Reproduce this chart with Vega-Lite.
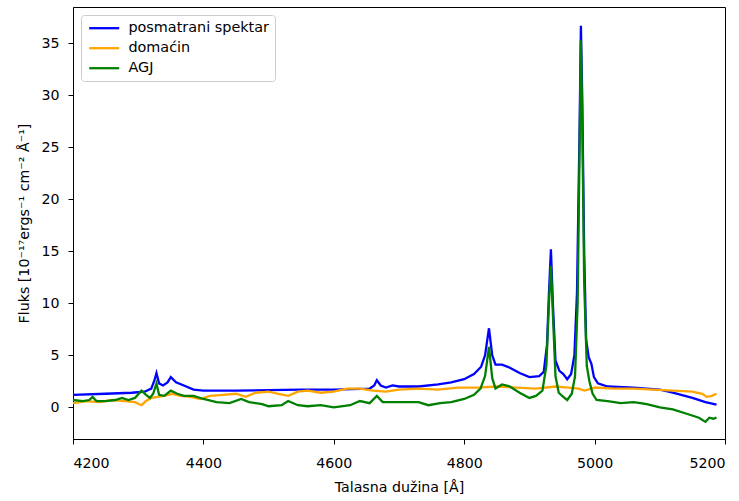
{
  "$schema": "https://vega.github.io/schema/vega-lite/v6.json",
  "width": 652,
  "height": 432,
  "autosize": {"type": "none"},
  "padding": {"left": 73, "top": 7, "right": 14, "bottom": 62},
  "config": {
    "font": "DejaVu Sans",
    "view": {"stroke": "black", "strokeWidth": 1},
    "axis": {
      "grid": false, "domainColor": "black", "tickColor": "black", "tickSize": 5,
      "labelFontSize": 14.2, "labelColor": "black", "titleFontSize": 14.2,
      "titleFontWeight": "normal", "titleColor": "black", "labelFont": "DejaVu Sans", "titleFont": "DejaVu Sans"
    },
    "legend": {
      "labelFont": "DejaVu Sans", "labelFontSize": 14.4, "labelColor": "black"
    }
  },
  "data": {"values": [
    {"s":"posmatrani spektar","x":4200,"y":1.2},
    {"s":"posmatrani spektar","x":4250,"y":1.3},
    {"s":"posmatrani spektar","x":4290,"y":1.4},
    {"s":"posmatrani spektar","x":4310,"y":1.5},
    {"s":"posmatrani spektar","x":4320,"y":1.8},
    {"s":"posmatrani spektar","x":4325,"y":2.6},
    {"s":"posmatrani spektar","x":4328,"y":3.3},
    {"s":"posmatrani spektar","x":4332,"y":2.3},
    {"s":"posmatrani spektar","x":4338,"y":2.1},
    {"s":"posmatrani spektar","x":4345,"y":2.4},
    {"s":"posmatrani spektar","x":4350,"y":2.9},
    {"s":"posmatrani spektar","x":4358,"y":2.4},
    {"s":"posmatrani spektar","x":4370,"y":2.1},
    {"s":"posmatrani spektar","x":4385,"y":1.7},
    {"s":"posmatrani spektar","x":4400,"y":1.6},
    {"s":"posmatrani spektar","x":4450,"y":1.6},
    {"s":"posmatrani spektar","x":4500,"y":1.65},
    {"s":"posmatrani spektar","x":4550,"y":1.7},
    {"s":"posmatrani spektar","x":4600,"y":1.7},
    {"s":"posmatrani spektar","x":4655,"y":1.8},
    {"s":"posmatrani spektar","x":4662,"y":2.1},
    {"s":"posmatrani spektar","x":4666,"y":2.6},
    {"s":"posmatrani spektar","x":4672,"y":2.1},
    {"s":"posmatrani spektar","x":4680,"y":1.9},
    {"s":"posmatrani spektar","x":4690,"y":2.1},
    {"s":"posmatrani spektar","x":4700,"y":2.0},
    {"s":"posmatrani spektar","x":4730,"y":2.0},
    {"s":"posmatrani spektar","x":4760,"y":2.2},
    {"s":"posmatrani spektar","x":4780,"y":2.4},
    {"s":"posmatrani spektar","x":4800,"y":2.7},
    {"s":"posmatrani spektar","x":4815,"y":3.2},
    {"s":"posmatrani spektar","x":4826,"y":3.9},
    {"s":"posmatrani spektar","x":4832,"y":5.0},
    {"s":"posmatrani spektar","x":4838,"y":7.6},
    {"s":"posmatrani spektar","x":4843,"y":5.0},
    {"s":"posmatrani spektar","x":4848,"y":4.1},
    {"s":"posmatrani spektar","x":4858,"y":4.1},
    {"s":"posmatrani spektar","x":4870,"y":3.8},
    {"s":"posmatrani spektar","x":4885,"y":3.3},
    {"s":"posmatrani spektar","x":4900,"y":2.9},
    {"s":"posmatrani spektar","x":4915,"y":3.0},
    {"s":"posmatrani spektar","x":4922,"y":3.4},
    {"s":"posmatrani spektar","x":4927,"y":6.0},
    {"s":"posmatrani spektar","x":4930,"y":11.0},
    {"s":"posmatrani spektar","x":4933,"y":15.2},
    {"s":"posmatrani spektar","x":4936,"y":10.0},
    {"s":"posmatrani spektar","x":4940,"y":4.5},
    {"s":"posmatrani spektar","x":4946,"y":3.5},
    {"s":"posmatrani spektar","x":4952,"y":3.2},
    {"s":"posmatrani spektar","x":4958,"y":2.7},
    {"s":"posmatrani spektar","x":4964,"y":3.2},
    {"s":"posmatrani spektar","x":4969,"y":5.0},
    {"s":"posmatrani spektar","x":4973,"y":11.0},
    {"s":"posmatrani spektar","x":4977,"y":27.0},
    {"s":"posmatrani spektar","x":4979,"y":36.7},
    {"s":"posmatrani spektar","x":4981,"y":30.0},
    {"s":"posmatrani spektar","x":4984,"y":15.0},
    {"s":"posmatrani spektar","x":4987,"y":6.5},
    {"s":"posmatrani spektar","x":4991,"y":4.8},
    {"s":"posmatrani spektar","x":4995,"y":4.2},
    {"s":"posmatrani spektar","x":4999,"y":2.9},
    {"s":"posmatrani spektar","x":5005,"y":2.3},
    {"s":"posmatrani spektar","x":5020,"y":2.0},
    {"s":"posmatrani spektar","x":5060,"y":1.9},
    {"s":"posmatrani spektar","x":5100,"y":1.7},
    {"s":"posmatrani spektar","x":5120,"y":1.4},
    {"s":"posmatrani spektar","x":5150,"y":0.9},
    {"s":"posmatrani spektar","x":5170,"y":0.5},
    {"s":"posmatrani spektar","x":5187,"y":0.25},
    {"s":"domaćin","x":4200,"y":0.4},
    {"s":"domaćin","x":4220,"y":0.6},
    {"s":"domaćin","x":4240,"y":0.5},
    {"s":"domaćin","x":4260,"y":0.7},
    {"s":"domaćin","x":4280,"y":0.6},
    {"s":"domaćin","x":4295,"y":0.5},
    {"s":"domaćin","x":4305,"y":0.2},
    {"s":"domaćin","x":4312,"y":0.6},
    {"s":"domaćin","x":4320,"y":0.9},
    {"s":"domaćin","x":4340,"y":1.1},
    {"s":"domaćin","x":4352,"y":1.3},
    {"s":"domaćin","x":4365,"y":1.1},
    {"s":"domaćin","x":4380,"y":1.0},
    {"s":"domaćin","x":4395,"y":0.8},
    {"s":"domaćin","x":4410,"y":1.1},
    {"s":"domaćin","x":4430,"y":1.2},
    {"s":"domaćin","x":4450,"y":1.3},
    {"s":"domaćin","x":4465,"y":1.0},
    {"s":"domaćin","x":4480,"y":1.4},
    {"s":"domaćin","x":4500,"y":1.5},
    {"s":"domaćin","x":4515,"y":1.3},
    {"s":"domaćin","x":4530,"y":1.1},
    {"s":"domaćin","x":4545,"y":1.5},
    {"s":"domaćin","x":4560,"y":1.6},
    {"s":"domaćin","x":4580,"y":1.4},
    {"s":"domaćin","x":4600,"y":1.5},
    {"s":"domaćin","x":4620,"y":1.8},
    {"s":"domaćin","x":4640,"y":1.8},
    {"s":"domaćin","x":4660,"y":1.6},
    {"s":"domaćin","x":4680,"y":1.5},
    {"s":"domaćin","x":4700,"y":1.7},
    {"s":"domaćin","x":4730,"y":1.8},
    {"s":"domaćin","x":4760,"y":1.7},
    {"s":"domaćin","x":4790,"y":1.9},
    {"s":"domaćin","x":4820,"y":1.9},
    {"s":"domaćin","x":4850,"y":2.0},
    {"s":"domaćin","x":4880,"y":1.9},
    {"s":"domaćin","x":4910,"y":1.8},
    {"s":"domaćin","x":4940,"y":2.0},
    {"s":"domaćin","x":4960,"y":1.9},
    {"s":"domaćin","x":4975,"y":1.8},
    {"s":"domaćin","x":4985,"y":1.6},
    {"s":"domaćin","x":5000,"y":1.9},
    {"s":"domaćin","x":5030,"y":1.8},
    {"s":"domaćin","x":5060,"y":1.8},
    {"s":"domaćin","x":5090,"y":1.7},
    {"s":"domaćin","x":5120,"y":1.6},
    {"s":"domaćin","x":5150,"y":1.5},
    {"s":"domaćin","x":5165,"y":1.3},
    {"s":"domaćin","x":5172,"y":1.0},
    {"s":"domaćin","x":5180,"y":1.1},
    {"s":"domaćin","x":5187,"y":1.3},
    {"s":"AGJ","x":4200,"y":0.7},
    {"s":"AGJ","x":4215,"y":0.6},
    {"s":"AGJ","x":4225,"y":0.7},
    {"s":"AGJ","x":4230,"y":1.0},
    {"s":"AGJ","x":4236,"y":0.6},
    {"s":"AGJ","x":4250,"y":0.6},
    {"s":"AGJ","x":4265,"y":0.7},
    {"s":"AGJ","x":4275,"y":0.9},
    {"s":"AGJ","x":4285,"y":0.7},
    {"s":"AGJ","x":4295,"y":0.9},
    {"s":"AGJ","x":4305,"y":1.6},
    {"s":"AGJ","x":4312,"y":1.2},
    {"s":"AGJ","x":4318,"y":0.9},
    {"s":"AGJ","x":4323,"y":1.3},
    {"s":"AGJ","x":4328,"y":2.3},
    {"s":"AGJ","x":4332,"y":1.2},
    {"s":"AGJ","x":4340,"y":1.1},
    {"s":"AGJ","x":4350,"y":1.6},
    {"s":"AGJ","x":4360,"y":1.3},
    {"s":"AGJ","x":4370,"y":1.1},
    {"s":"AGJ","x":4385,"y":1.1},
    {"s":"AGJ","x":4400,"y":0.8},
    {"s":"AGJ","x":4420,"y":0.5},
    {"s":"AGJ","x":4440,"y":0.4},
    {"s":"AGJ","x":4458,"y":0.8},
    {"s":"AGJ","x":4470,"y":0.5},
    {"s":"AGJ","x":4490,"y":0.3},
    {"s":"AGJ","x":4500,"y":0.1},
    {"s":"AGJ","x":4520,"y":0.2},
    {"s":"AGJ","x":4530,"y":0.6},
    {"s":"AGJ","x":4545,"y":0.2},
    {"s":"AGJ","x":4560,"y":0.1},
    {"s":"AGJ","x":4580,"y":0.2},
    {"s":"AGJ","x":4600,"y":0.0},
    {"s":"AGJ","x":4625,"y":0.2},
    {"s":"AGJ","x":4640,"y":0.6},
    {"s":"AGJ","x":4655,"y":0.4},
    {"s":"AGJ","x":4666,"y":1.1},
    {"s":"AGJ","x":4675,"y":0.5},
    {"s":"AGJ","x":4700,"y":0.5},
    {"s":"AGJ","x":4730,"y":0.5},
    {"s":"AGJ","x":4745,"y":0.2},
    {"s":"AGJ","x":4763,"y":0.4},
    {"s":"AGJ","x":4780,"y":0.5},
    {"s":"AGJ","x":4800,"y":0.8},
    {"s":"AGJ","x":4815,"y":1.2},
    {"s":"AGJ","x":4825,"y":1.8},
    {"s":"AGJ","x":4832,"y":3.0},
    {"s":"AGJ","x":4838,"y":5.8},
    {"s":"AGJ","x":4843,"y":2.8},
    {"s":"AGJ","x":4848,"y":1.8},
    {"s":"AGJ","x":4858,"y":2.2},
    {"s":"AGJ","x":4870,"y":2.0},
    {"s":"AGJ","x":4885,"y":1.4},
    {"s":"AGJ","x":4900,"y":0.9},
    {"s":"AGJ","x":4910,"y":1.1},
    {"s":"AGJ","x":4920,"y":1.6},
    {"s":"AGJ","x":4926,"y":4.0},
    {"s":"AGJ","x":4930,"y":10.0},
    {"s":"AGJ","x":4933,"y":13.6},
    {"s":"AGJ","x":4936,"y":9.0},
    {"s":"AGJ","x":4940,"y":3.0},
    {"s":"AGJ","x":4945,"y":1.4},
    {"s":"AGJ","x":4952,"y":1.0},
    {"s":"AGJ","x":4958,"y":0.7},
    {"s":"AGJ","x":4965,"y":1.3},
    {"s":"AGJ","x":4970,"y":3.0},
    {"s":"AGJ","x":4974,"y":10.0},
    {"s":"AGJ","x":4977,"y":25.0},
    {"s":"AGJ","x":4979,"y":35.3},
    {"s":"AGJ","x":4981,"y":28.0},
    {"s":"AGJ","x":4984,"y":12.0},
    {"s":"AGJ","x":4988,"y":4.0},
    {"s":"AGJ","x":4992,"y":2.5},
    {"s":"AGJ","x":4997,"y":1.3},
    {"s":"AGJ","x":5003,"y":0.7},
    {"s":"AGJ","x":5020,"y":0.6},
    {"s":"AGJ","x":5040,"y":0.4},
    {"s":"AGJ","x":5060,"y":0.5},
    {"s":"AGJ","x":5080,"y":0.3},
    {"s":"AGJ","x":5100,"y":0.0},
    {"s":"AGJ","x":5120,"y":-0.2},
    {"s":"AGJ","x":5140,"y":-0.6},
    {"s":"AGJ","x":5160,"y":-1.0},
    {"s":"AGJ","x":5170,"y":-1.4},
    {"s":"AGJ","x":5176,"y":-1.0},
    {"s":"AGJ","x":5182,"y":-1.1},
    {"s":"AGJ","x":5187,"y":-1.0}
  ]},
  "mark": {"type": "line", "strokeWidth": 2.3, "clip": true},
  "encoding": {
    "x": {
      "field": "x", "type": "quantitative",
      "scale": {"domain": [4200, 5200], "nice": false, "zero": false},
      "axis": {"values": [4200, 4400, 4600, 4800, 5000, 5200], "format": "d", "title": "Talasna dužina [Å]", "labelPadding": 12, "titlePadding": 10}
    },
    "y": {
      "field": "y", "type": "quantitative",
      "scale": {"domain": [-3.05, 38.5], "nice": false, "zero": false},
      "axis": {"values": [0, 5, 10, 15, 20, 25, 30, 35], "title": "Fluks [10⁻¹⁷ergs⁻¹ cm⁻² Å⁻¹]", "labelPadding": 9, "titlePadding": 9}
    },
    "color": {
      "field": "s", "type": "nominal",
      "scale": {"domain": ["posmatrani spektar", "domaćin", "AGJ"], "range": ["#0000ff", "#ffa500", "#008000"]},
      "legend": {
        "title": null, "orient": "none", "legendX": 8, "legendY": 8,
        "symbolType": "M-1,0H5", "symbolStrokeWidth": 2.3, "symbolSize": 100, "symbolOpacity": 1,
        "padding": 6, "rowPadding": 5,
        "strokeColor": "#cccccc", "fillColor": "white", "cornerRadius": 3, "labelOffset": 27
      }
    },
    "order": {"field": "x", "type": "quantitative"}
  }
}
